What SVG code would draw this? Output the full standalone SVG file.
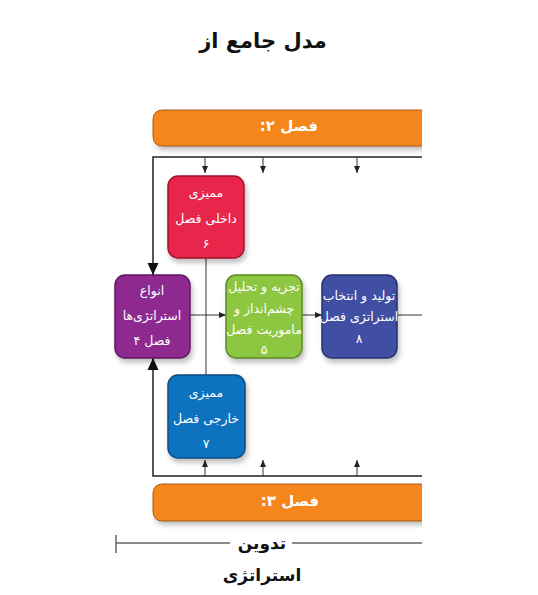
<svg xmlns="http://www.w3.org/2000/svg" width="538" height="595" viewBox="0 0 538 595">
<style>
text{font-family:"DejaVu Sans","Noto Sans",sans-serif;direction:rtl;text-anchor:middle}
.t{font-size:21px;font-weight:bold;fill:#111}
.bar{fill:#F5861F}
.bars{fill:none;stroke:#A85A14;stroke-width:1}
.bt{font-size:15px;font-weight:bold;fill:#fff}
.box{stroke-width:1.5}
.nt{font-size:12.5px;fill:#fff}
.ln{stroke:#222;fill:none}
.thin{stroke:#333;stroke-width:1;fill:none}
.gl{stroke:#666;stroke-width:1.5;fill:none}
.lb{font-size:17px;font-weight:bold;fill:#111}
</style>
<defs>
<marker id="a" markerWidth="8" markerHeight="8" refX="7" refY="4" orient="auto" markerUnits="userSpaceOnUse"><path d="M0,1 L7,4 L0,7 Z" fill="#222"/></marker>
<marker id="A" markerWidth="14" markerHeight="14" refX="12" refY="6" orient="auto" markerUnits="userSpaceOnUse"><path d="M0,0.5 L12,6 L0,11.5 Z" fill="#111"/></marker>
<filter id="sh" x="-10%" y="-10%" width="130%" height="140%"><feDropShadow dx="2" dy="4" stdDeviation="2.5" flood-color="#000" flood-opacity="0.25"/></filter>
<clipPath id="cl"><rect x="0" y="0" width="422" height="595"/></clipPath>
</defs>
<text class="t" x="263" y="48">مدل جامع از</text>

<g id="bar-top" clip-path="url(#cl)">
<path class="bar" filter="url(#sh)" d="M422,110 H163 Q153,110 153,120 V136 Q153,146 163,146 H422 Z"/>
<path class="bars" d="M422,110 H163 Q153,110 153,120 V136 Q153,146 163,146 H422"/>
<text class="bt" x="289" y="131">فصل ۲:</text>
</g>
<g id="bar-bottom" clip-path="url(#cl)">
<path class="bar" filter="url(#sh)" d="M422,484 H163 Q153,484 153,494 V511 Q153,521 163,521 H422 Z"/>
<path class="bars" d="M422,484 H163 Q153,484 153,494 V511 Q153,521 163,521 H422"/>
<text class="bt" x="290" y="506">فصل ۳:</text>
</g>

<g id="connectors">
<path class="ln" stroke-width="1.5" d="M422,157 H153 V275" marker-end="url(#A)"/>
<path class="ln" stroke-width="1.5" d="M422,476 H153 V358" marker-end="url(#A)"/>
<path class="thin" d="M205,157 V173" marker-end="url(#a)"/>
<path class="thin" d="M263,157 V173" marker-end="url(#a)"/>
<path class="thin" d="M357,157 V173" marker-end="url(#a)"/>
<path class="thin" d="M205,476 V460" marker-end="url(#a)"/>
<path class="thin" d="M263,476 V460" marker-end="url(#a)"/>
<path class="thin" d="M357,476 V460" marker-end="url(#a)"/>
<path class="thin" d="M206,257 V375"/>
<path class="thin" d="M190,315 H226" marker-end="url(#a)"/>
<path class="thin" d="M302,315 H322" marker-end="url(#a)"/>
<path class="thin" d="M397,315 H422"/>
</g>

<g id="node-internal">
<rect class="box" x="168" y="176" width="76" height="82" rx="10" fill="#E8254C" stroke="#A3142F" filter="url(#sh)"/>
<text class="nt" x="206" y="197">ممیزی</text>
<text class="nt" x="206" y="223" font-size="14">داخلی فصل</text>
<text class="nt" x="206" y="248">۶</text>
</g>
<g id="node-types">
<rect class="box" x="115" y="275" width="75" height="83" rx="10" fill="#8E2C8F" stroke="#5E1A60" filter="url(#sh)"/>
<text class="nt" x="152" y="295">انواع</text>
<text class="nt" x="152" y="320">استراتژی‌ها</text>
<text class="nt" x="152" y="345">فصل ۴</text>
</g>
<g id="node-vision">
<rect class="box" x="226" y="275" width="76" height="83" rx="10" fill="#8DC63F" stroke="#5E8A25" filter="url(#sh)"/>
<text class="nt" x="264" y="291" font-size="11.5">تجزیه و تحلیل</text>
<text class="nt" x="264" y="313" font-size="11.5">چشم‌انداز و</text>
<text class="nt" x="264" y="334" font-size="11.5">ماموریت فصل</text>
<text class="nt" x="264" y="354">۵</text>
</g>
<g id="node-generate">
<rect class="box" x="322" y="275" width="75" height="83" rx="10" fill="#3F4FA4" stroke="#26306E" filter="url(#sh)"/>
<text class="nt" x="359" y="300" font-size="12">تولید و انتخاب</text>
<text class="nt" x="359" y="321" font-size="12">استراتژی فصل</text>
<text class="nt" x="359" y="343">۸</text>
</g>
<g id="node-external">
<rect class="box" x="168" y="375" width="77" height="83" rx="10" fill="#0B73BE" stroke="#074E85" filter="url(#sh)"/>
<text class="nt" x="206" y="397">ممیزی</text>
<text class="nt" x="206" y="423" font-size="14">خارجی فصل</text>
<text class="nt" x="206" y="448">۷</text>
</g>

<g id="span">
<path class="gl" d="M116,535 V553 M116,543 H230 M292,543 H422"/>
<text class="lb" x="262" y="549">تدوین</text>
<text class="lb" x="262" y="581">استراتژی</text>
</g>
</svg>
